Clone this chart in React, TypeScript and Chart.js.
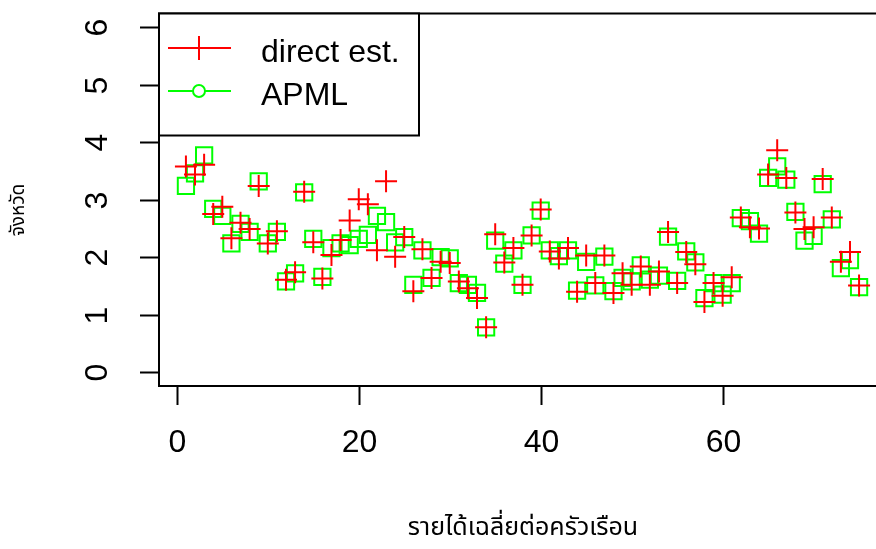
import React, { useEffect, useRef } from "react";
import { Chart, registerables } from "chart.js";

Chart.register(...registerables);

// Direct estimates and APML estimates for each area (index 1..75)
const directEst = [
  3.58, 3.44, 3.61, 2.75, 2.88, 2.33, 2.6, 2.49, 3.24, 2.24,
  2.45, 1.61, 1.74, 3.14, 2.26, 1.63, 2.04, 2.3, 2.64, 3.01,
  2.92, 2.12, 3.32, 2.01, 2.35, 1.41, 2.14, 1.64, 1.92, 1.9,
  1.58, 1.46, 1.29, 0.78, 2.4, 1.91, 2.16, 1.52, 2.38, 2.83,
  2.1, 1.98, 2.16, 1.4, 2.03, 1.55, 2.03, 1.38, 1.72, 1.52,
  1.84, 1.52, 1.75, 2.44, 1.55, 2.09, 1.88, 1.22, 1.55, 1.33,
  1.65, 2.69, 2.52, 2.5, 3.44, 3.86, 3.38, 2.78, 2.49, 2.52,
  3.36, 2.69, 1.92, 2.09, 1.51,
];

const apml = [
  3.24, 3.46, 3.77, 2.84, 2.72, 2.24, 2.58, 2.44, 3.32, 2.24,
  2.44, 1.58, 1.72, 3.13, 2.32, 1.66, 2.16, 2.24, 2.21, 2.32,
  2.39, 2.72, 2.61, 2.26, 2.35, 1.52, 2.12, 1.64, 2.0, 1.98,
  1.55, 1.52, 1.38, 0.78, 2.29, 1.89, 2.12, 1.52, 2.38, 2.81,
  2.12, 2.02, 2.12, 1.42, 1.92, 1.51, 2.01, 1.41, 1.64, 1.58,
  1.86, 1.61, 1.68, 2.36, 1.59, 2.1, 1.91, 1.29, 1.55, 1.35,
  1.55, 2.68, 2.63, 2.41, 3.38, 3.58, 3.35, 2.79, 2.29, 2.37,
  3.27, 2.66, 1.81, 1.95, 1.48,
];

const areaIndex = directEst.map((_, i) => i + 1);

const xTicks = [0, 20, 40, 60];
const yTicks = [0, 1, 2, 3, 4, 5, 6];

const xTitle = "รายได้เฉลี่ยต่อครัวเรือน";
const yTitle = "จังหวัด";

const seriesNames = ["direct est.", "APML"];
const RED = "#ff0000";
const GREEN = "#00ff00";

const LATIN_FONT = '"Liberation Sans", Arial, sans-serif';
const THAI_FONT = '"Noto Sans Thai", "Loma", "Garuda", "DejaVu Sans", "Noto Sans", sans-serif';

// Base-graphics style frame, axes, titles and legend
const basePlotFrame = {
  id: "basePlotFrame",
  afterDatasetsDraw(chart: any) {
    const { ctx, chartArea, scales } = chart;
    const xs = scales.x;
    const ys = scales.y;
    const tickLen = 19;
    ctx.save();
    ctx.strokeStyle = "#000";
    ctx.fillStyle = "#000";
    ctx.lineWidth = 2;

    // frame
    ctx.strokeRect(chartArea.left, chartArea.top, chartArea.right - chartArea.left, chartArea.bottom - chartArea.top);

    // x ticks + labels
    ctx.font = `32px ${LATIN_FONT}`;
    ctx.textAlign = "center";
    ctx.textBaseline = "middle";
    xTicks.forEach((t) => {
      const px = Math.round(xs.getPixelForValue(t)) + 0.5;
      ctx.beginPath();
      ctx.moveTo(px, chartArea.bottom);
      ctx.lineTo(px, chartArea.bottom + tickLen);
      ctx.stroke();
      ctx.fillText(String(t), px, chartArea.bottom + 57);
    });

    // y ticks + rotated labels
    yTicks.forEach((t) => {
      const py = Math.round(ys.getPixelForValue(t)) + 0.5;
      ctx.beginPath();
      ctx.moveTo(chartArea.left, py);
      ctx.lineTo(chartArea.left - tickLen, py);
      ctx.stroke();
      ctx.save();
      ctx.translate(chartArea.left - 61, py);
      ctx.rotate(-Math.PI / 2);
      ctx.fillText(String(t), 0, 0);
      ctx.restore();
    });

    // axis titles
    ctx.font = `25px ${THAI_FONT}`;
    ctx.fillText(xTitle, 523, 530);
    ctx.save();
    ctx.translate(20, 210);
    ctx.rotate(-Math.PI / 2);
    ctx.font = `19px ${THAI_FONT}`;
    ctx.fillText(yTitle, 0, 0);
    ctx.restore();

    // legend
    const lx = chartArea.left;
    const ly = chartArea.top;
    ctx.fillStyle = "#fff";
    ctx.fillRect(lx, ly, 260, 122);
    ctx.strokeStyle = "#000";
    ctx.strokeRect(lx, ly, 260, 122);

    const rows = [
      { y: 48, color: RED, label: seriesNames[0], mark: "cross" },
      { y: 91, color: GREEN, label: seriesNames[1], mark: "circle" },
    ];
    rows.forEach((r) => {
      ctx.strokeStyle = r.color;
      ctx.lineWidth = 2;
      ctx.beginPath();
      ctx.moveTo(lx + 9, r.y);
      ctx.lineTo(lx + 72, r.y);
      ctx.stroke();
      const cx = lx + 40;
      if (r.mark === "cross") {
        ctx.beginPath();
        ctx.moveTo(cx, r.y - 12);
        ctx.lineTo(cx, r.y + 12);
        ctx.stroke();
      } else {
        ctx.fillStyle = "#fff";
        ctx.beginPath();
        ctx.arc(cx, r.y, 6, 0, Math.PI * 2);
        ctx.fill();
        ctx.stroke();
      }
      ctx.fillStyle = "#000";
      ctx.font = `32px ${LATIN_FONT}`;
      ctx.textAlign = "left";
      ctx.textBaseline = "middle";
      ctx.fillText(r.label, lx + 102, r.y + 5);
    });
    ctx.restore();
  },
};

export default function App() {
  const canvasRef = useRef<HTMLCanvasElement | null>(null);

  useEffect(() => {
    const canvas = canvasRef.current;
    if (!canvas) return;
    const chart = new Chart(canvas, {
      type: "scatter",
      data: {
        datasets: [
          {
            label: seriesNames[0],
            data: areaIndex.map((x, i) => ({ x, y: directEst[i] })),
            pointStyle: "cross",
            pointRadius: 11,
            pointBorderWidth: 2,
            borderColor: RED,
            backgroundColor: RED,
          },
          {
            label: seriesNames[1],
            data: areaIndex.map((x, i) => ({ x, y: apml[i] })),
            pointStyle: "rect",
            pointRadius: 11.5,
            pointBorderWidth: 2,
            borderColor: GREEN,
            backgroundColor: "rgba(0,0,0,0)",
          },
        ],
      },
      options: {
        responsive: false,
        animation: false,
        devicePixelRatio: 1,
        layout: { padding: { left: 159, top: 9, right: 34, bottom: 163 } },
        plugins: { legend: { display: false }, tooltip: { enabled: false } },
        events: [],
        scales: {
          x: { type: "linear", min: -1.96, max: 77.96, display: false },
          y: { type: "linear", min: -0.24, max: 6.24, display: false },
        },
      },
      plugins: [basePlotFrame],
    });
    return () => chart.destroy();
  }, []);

  return (
    <div style={{ position: "fixed", left: 0, top: 0, width: 920, height: 549, background: "#fff" }}>
      <canvas ref={canvasRef} width={920} height={549} style={{ display: "block" }} />
    </div>
  );
}
